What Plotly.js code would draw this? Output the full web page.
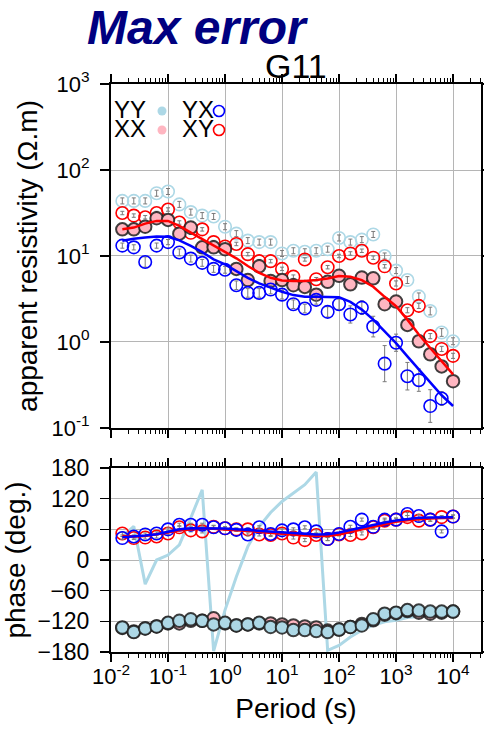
<!DOCTYPE html>
<html>
<head>
<meta charset="utf-8">
<script src="https://cdn.plot.ly/plotly-3.0.1.min.js"></script>
<style>html,body{margin:0;padding:0;background:#fff;}#chart{width:484px;height:730px;}</style>
</head>
<body>
<div id="chart"></div>
<script>
// Periods (s)
const periods = [0.0158, 0.0251, 0.0398, 0.0631, 0.1, 0.158, 0.251, 0.398, 0.631, 1,
  1.58, 2.51, 3.98, 6.31, 10, 15.8, 25.1, 39.8, 63.1, 100,
  158, 251, 398, 631, 1000, 1580, 2510, 3980, 6310, 10000];

// Apparent resistivity (ohm.m), observed
const rhoYY = [43.7, 43.7, 43.7, 53.7, 56.2, 39.8, 32.4, 29.5, 28.8, 21.9,
  18.2, 15.1, 14.5, 14.5, 10.7, 11.5, 11.2, 11.5, 12.0, 16.2,
  14.5, 15.5, 17.8, 10.0, 6.76, 5.25, 3.39, 2.29, 1.29, 1.02];
const rhoXY = [31.6, 29.5, 28.2, 31.6, 34.7, 24.5, 18.6, 20.4, 14.5, 12.9,
  13.8, 10.5, 8.71, 8.71, 7.08, 5.75, 9.12, 5.37, 7.41, 10.0,
  10.7, 11.5, 9.55, 7.59, 4.79, 2.34, 2.63, 1.17, 0.83, 0.69];
const rhoXX = [20.4, 20.4, 21.9, 27.5, 26.3, 18.2, 21.4, 12.6, 12.6, 12.0,
  7.08, 5.25, 7.59, 5.13, 5.25, 4.57, 4.37, 3.55, 5.01, 5.89,
  4.68, 5.62, 5.50, 2.75, 2.95, 1.58, 1.02, 0.72, 0.52, 0.35];
const rhoYX = [13.2, 12.6, 8.51, 13.2, 14.5, 11.0, 9.33, 8.32, 7.08, 6.92,
  4.57, 3.72, 3.72, 4.07, 3.55, 2.75, 2.45, 3.09, 2.24, 2.75,
  2.09, 2.51, 1.51, 0.56, 0.98, 0.40, 0.36, 0.18, 0.22, null];

// Error half-widths (log10 units)
const errYY = [0.035, 0.035, 0.035, 0.035, 0.035, 0.035, 0.035, 0.035, 0.035, 0.035,
  0.035, 0.035, 0.035, 0.035, 0.035, 0.035, 0.035, 0.035, 0.035, 0.035,
  0.035, 0.035, 0.035, 0.035, 0.035, 0.04, 0.04, 0.045, 0.045, 0.04];
const errXY = [0.02, 0.02, 0.02, 0.02, 0.02, 0.02, 0.02, 0.02, 0.02, 0.02,
  0.02, 0.02, 0.02, 0.02, 0.02, 0.02, 0.02, 0.02, 0.02, 0.02,
  0.02, 0.02, 0.02, 0.02, 0.03, 0.03, 0.03, 0.03, 0.03, 0.03];
const errXX = [0.025, 0.025, 0.025, 0.025, 0.025, 0.025, 0.025, 0.025, 0.025, 0.025,
  0.025, 0.025, 0.025, 0.025, 0.025, 0.025, 0.025, 0.025, 0.025, 0.025,
  0.025, 0.025, 0.025, 0.03, 0.03, 0.03, 0.03, 0.03, 0.03, 0.03];
const errYX = [0.03, 0.03, 0.06, 0.03, 0.03, 0.04, 0.04, 0.04, 0.04, 0.04,
  0.05, 0.05, 0.05, 0.05, 0.05, 0.05, 0.05, 0.05, 0.06, 0.06,
  0.10, 0.08, 0.12, 0.21, 0.10, 0.16, 0.13, 0.19, 0.08, null];

// Model curves (ohm.m)
const modelRhoXY = [20.5, 21.4, 23.8, 25.6, 25.6, 22.4, 18.7, 15.7, 13.1, 11.1,
  9.40, 7.64, 6.38, 5.58, 5.20, 5.11, 5.11, 5.25, 5.48, 5.85,
  5.74, 5.25, 4.39, 3.35, 2.61, 1.82, 1.22, 0.85, 0.59, 0.42];
const modelRhoYX = [15.0, 15.9, 16.4, 16.8, 16.7, 15.2, 13.1, 11.1, 9.14, 8.00,
  6.68, 5.58, 4.80, 4.27, 3.84, 3.51, 3.35, 3.35, 3.35, 3.32,
  2.93, 2.38, 1.82, 1.33, 0.97, 0.68, 0.48, 0.33, 0.24, 0.18];

// Phase (deg), observed
const phXY = [52, 43, 44, 46, 52, 64, 58, 56, 65, 62,
  60, 60, 50, 49, 52, 44, 39, 49, 41, 50,
  49, 52, 64, 77, 79, 84, 77, 79, 84, 85];
const phYX = [43, 46, 50, 52, 60, 69, 69, 69, 64, 62,
  59, 50, 64, 51, 58, 60, 64, 56, 41, 51,
  65, 79, 65, 79, 79, 90, 86, 79, 56, 85];
const phXX = [-133, -140, -134, -130, -124, -124, -119, -119, -114, -124,
  -128, -126, -124, -124, -126, -128, -130, -132, -138, -136,
  -131, -125, -118, -107, -104, -100, -103, -105, -103, -101];
const phYY = [-132, -141, -134, -130, -123, -119, -116, -119, -126, -123,
  -128, -126, -123, -131, -132, -137, -137, -139, -141, -136,
  -131, -128, -116, -105, -103, -98, -99, -101, -101, -101];
const phErr = [3, 3, 3, 3, 3, 3, 3, 3, 3, 3,
  3, 3, 3, 3, 3, 3, 3, 3, 3, 3,
  3, 3, 3, 3, 3, 3, 3, 3, 3, 3];

// Model phase
const modelPhXY = [47, 46, 47, 50, 54, 58, 60, 61, 61, 60,
  59, 57, 55, 53, 51, 50, 48, 47, 47, 50,
  55, 61, 66, 71, 75, 78, 80, 81, 82, 82];
const modelPhYX = [44.5, 45.8, 47.8, 50.4, 55.6, 60.2, 62.2, 62.2, 62.2, 61.5,
  60.2, 58.9, 57.0, 55.6, 54.3, 52.4, 51.1, 49.8, 50.4, 53.7,
  58.9, 64.2, 68.7, 73.3, 77.2, 80.5, 82.5, 83.1, 83.8, 83.8];
const modelPhYY = [45.8, 66, -47.1, 0, 9.8, 29.5, 82.5, 137.5, -178, -98,
  -32.7, 26.2, 65.5, 93, 114.5, 130.9, 147.3, 172, -176.7, -167,
  -150.5, -137.4, -127.6, -121, -117.8, -112.6, -110, -108, -106, -104.7];

// Tick labels
const xTickVals = [0.01, 0.1, 1, 10, 100, 1000, 10000];
const xTickText = ['10<sup>-2</sup>', '10<sup>-1</sup>', '10<sup>0</sup>', '10<sup>1</sup>', '10<sup>2</sup>', '10<sup>3</sup>', '10<sup>4</sup>'];
const rhoTickVals = [0.1, 1, 10, 100, 1000];
const rhoTickText = ['10<sup>-1</sup>', '10<sup>0</sup>', '10<sup>1</sup>', '10<sup>2</sup>', '10<sup>3</sup>'];
const phTickVals = [-180, -120, -60, 0, 60, 120, 180];

// Legend labels
const legendLabels = ['YY', 'XX', 'YX', 'XY'];

function logErr(vals, e) {
  return {
    type: 'data', symmetric: false,
    array: vals.map((v, i) => (v == null || e[i] == null) ? null : v * (Math.pow(10, e[i]) - 1)),
    arrayminus: vals.map((v, i) => (v == null || e[i] == null) ? null : v * (1 - Math.pow(10, -e[i]))),
    color: '#7a7a7a', thickness: 1, width: 2
  };
}
function linErr(e) {
  return {type: 'data', array: e, color: '#7a7a7a', thickness: 1, width: 2};
}

const openMarker = (c) => ({symbol: 'circle-open', size: 12.5, color: c, line: {width: 1.6, color: c}});
const filledMarker = (c) => ({symbol: 'circle', size: 12.5, color: c, line: {width: 2, color: 'rgba(30,30,30,0.85)'}});

const traces = [
  // Top: apparent resistivity
  {x: periods, y: rhoYY, xaxis: 'x2', yaxis: 'y2', mode: 'markers', marker: openMarker('#add8e6'), error_y: logErr(rhoYY, errYY), showlegend: false},
  {x: periods, y: rhoXY, xaxis: 'x2', yaxis: 'y2', mode: 'markers', marker: openMarker('#ff0000'), error_y: logErr(rhoXY, errXY), showlegend: false},
  {x: periods, y: rhoXX, xaxis: 'x2', yaxis: 'y2', mode: 'markers', marker: filledMarker('#ffb6c1'), error_y: logErr(rhoXX, errXX), showlegend: false},
  {x: periods, y: rhoYX, xaxis: 'x2', yaxis: 'y2', mode: 'markers', marker: openMarker('#0000ff'), error_y: logErr(rhoYX, errYX), showlegend: false},
  {x: periods, y: modelRhoXY, xaxis: 'x2', yaxis: 'y2', mode: 'lines', line: {color: '#ff0000', width: 2.5}, showlegend: false},
  {x: periods, y: modelRhoYX, xaxis: 'x2', yaxis: 'y2', mode: 'lines', line: {color: '#0000ff', width: 2.5}, showlegend: false},
  // Bottom: phase
  {x: periods, y: modelPhYY, xaxis: 'x', yaxis: 'y', mode: 'lines', line: {color: '#add8e6', width: 3}, showlegend: false},
  {x: periods, y: phXY, xaxis: 'x', yaxis: 'y', mode: 'markers', marker: openMarker('#ff0000'), error_y: linErr(phErr), showlegend: false},
  {x: periods, y: phYX, xaxis: 'x', yaxis: 'y', mode: 'markers', marker: openMarker('#0000ff'), error_y: linErr(phErr), showlegend: false},
  {x: periods, y: phXX, xaxis: 'x', yaxis: 'y', mode: 'markers', marker: filledMarker('#ffb6c1'), showlegend: false},
  {x: periods, y: phYY, xaxis: 'x', yaxis: 'y', mode: 'markers', marker: filledMarker('#add8e6'), showlegend: false},
  {x: periods, y: modelPhXY, xaxis: 'x', yaxis: 'y', mode: 'lines', line: {color: '#ff0000', width: 2.5}, showlegend: false},
  {x: periods, y: modelPhYX, xaxis: 'x', yaxis: 'y', mode: 'lines', line: {color: '#0000ff', width: 2.5}, showlegend: false}
];

const FONT = 'Liberation Sans, Arial, Helvetica, sans-serif';
const xCommon = {
  type: 'log', range: [-2, 4.49], tickvals: xTickVals, ticktext: xTickText,
  showline: true, linewidth: 2, linecolor: '#000', mirror: 'allticks',
  ticks: 'outside', ticklen: 8, tickwidth: 1.2, tickcolor: '#000',
  showgrid: true, gridcolor: '#b5b5b5', gridwidth: 1, zeroline: false,
  minor: {ticks: 'outside', ticklen: 4, tickwidth: 1, tickcolor: '#000', dtick: 'D1', showgrid: false},
  tickfont: {family: FONT, size: 22, color: '#000'}
};

const layout = {
  width: 484, height: 730,
  margin: {l: 111, r: 3, t: 84, b: 78},
  paper_bgcolor: '#fff', plot_bgcolor: '#fff',
  font: {family: FONT, color: '#000'},
  title: {text: '<b><i>Max error</i></b>', font: {family: FONT, size: 48, color: '#000080'},
    x: 87 / 484, xanchor: 'left', xref: 'container', y: 1 - 10 / 730, yanchor: 'top', yref: 'container', pad: {t: 0, b: 0, l: 0, r: 0}},
  xaxis: Object.assign({}, xCommon, {domain: [0, 1], anchor: 'y', showticklabels: true, ticklabelstandoff: -4,
    title: {text: 'Period (s)', font: {family: FONT, size: 28, color: '#000'}, standoff: 10}}),
  xaxis2: Object.assign({}, xCommon, {domain: [0, 1], anchor: 'y2', matches: 'x', showticklabels: false}),
  yaxis: {domain: [0, 0.3239], range: [-180, 180], tickvals: phTickVals,
    showline: true, linewidth: 2, linecolor: '#000', mirror: 'allticks',
    ticks: 'outside', ticklen: 9, tickwidth: 1.2, tickcolor: '#000', ticklabelstandoff: 6,
    showgrid: true, gridcolor: '#b5b5b5', gridwidth: 1, zeroline: false,
    tickfont: {family: FONT, size: 23, color: '#000'},
    title: {text: 'phase (deg.)', font: {family: FONT, size: 28, color: '#000'}, standoff: 4}},
  yaxis2: {domain: [0.3944, 1], type: 'log', range: [-1, 3], tickvals: rhoTickVals, ticktext: rhoTickText,
    showline: true, linewidth: 2, linecolor: '#000', mirror: 'allticks',
    ticks: 'outside', ticklen: 9, tickwidth: 1.2, tickcolor: '#000', ticklabelstandoff: 6,
    showgrid: true, gridcolor: '#b5b5b5', gridwidth: 1, zeroline: false,
    tickfont: {family: FONT, size: 22, color: '#000'},
    title: {text: 'apparent resistivity (Ω.m)', font: {family: FONT, size: 28, color: '#000'}, standoff: 6}},
  annotations: [
    {text: 'G11', xref: 'paper', yref: 'paper', x: 0.5, y: (652 - 66) / 568, xanchor: 'center', yanchor: 'middle',
      showarrow: false, font: {family: FONT, size: 34, color: '#000'}},
    {text: legendLabels[0], xref: 'paper', yref: 'paper', x: 0.0027, y: (652 - 109.5) / 568, xanchor: 'left', yanchor: 'middle',
      showarrow: false, font: {family: FONT, size: 24, color: '#000'}},
    {text: legendLabels[1], xref: 'paper', yref: 'paper', x: 0.0027, y: (652 - 129) / 568, xanchor: 'left', yanchor: 'middle',
      showarrow: false, font: {family: FONT, size: 24, color: '#000'}},
    {text: legendLabels[2], xref: 'paper', yref: 'paper', x: (180 - 111) / 370, y: (652 - 109.5) / 568, xanchor: 'left', yanchor: 'middle',
      showarrow: false, font: {family: FONT, size: 24, color: '#000'}},
    {text: legendLabels[3], xref: 'paper', yref: 'paper', x: (180 - 111) / 370, y: (652 - 129) / 568, xanchor: 'left', yanchor: 'middle',
      showarrow: false, font: {family: FONT, size: 24, color: '#000'}}
  ],
  shapes: [
    {type: 'circle', xref: 'paper', yref: 'paper', xsizemode: 'pixel', ysizemode: 'pixel',
      xanchor: (162 - 111) / 370, yanchor: (652 - 111) / 568, x0: -4.5, x1: 4.5, y0: -4.5, y1: 4.5,
      fillcolor: '#add8e6', line: {width: 0}},
    {type: 'circle', xref: 'paper', yref: 'paper', xsizemode: 'pixel', ysizemode: 'pixel',
      xanchor: (162 - 111) / 370, yanchor: (652 - 130) / 568, x0: -4.5, x1: 4.5, y0: -4.5, y1: 4.5,
      fillcolor: '#ffb6c1', line: {width: 0}},
    {type: 'circle', xref: 'paper', yref: 'paper', xsizemode: 'pixel', ysizemode: 'pixel',
      xanchor: (219 - 111) / 370, yanchor: (652 - 111) / 568, x0: -5.5, x1: 5.5, y0: -5.5, y1: 5.5,
      line: {width: 1.6, color: '#0000ff'}},
    {type: 'circle', xref: 'paper', yref: 'paper', xsizemode: 'pixel', ysizemode: 'pixel',
      xanchor: (219 - 111) / 370, yanchor: (652 - 130) / 568, x0: -5.5, x1: 5.5, y0: -5.5, y1: 5.5,
      line: {width: 1.6, color: '#ff0000'}}
  ]
};

Plotly.newPlot('chart', traces, layout, {staticPlot: true, displayModeBar: false});
</script>
</body>
</html>
